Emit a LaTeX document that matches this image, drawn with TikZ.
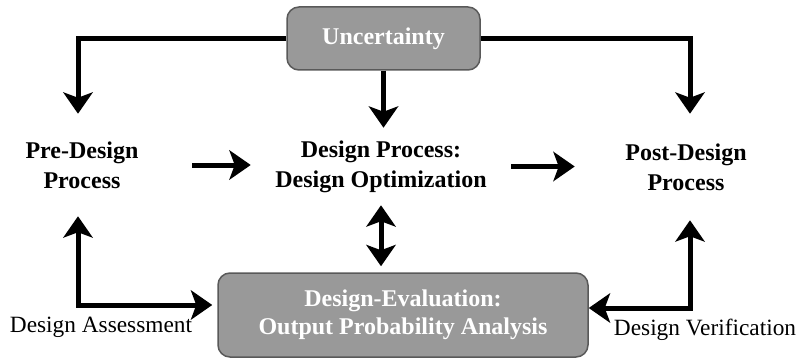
\documentclass[tikz,border=0pt]{standalone}
\usepackage{fontspec}
\setmainfont{Liberation Serif}
\usetikzlibrary{arrows.meta}
\newlength{\du}
\setlength{\du}{0.75\unitlength}
\definecolor{dialinecolor}{rgb}{0.000000, 0.000000, 0.000000}
\definecolor{diafillcolor}{rgb}{0.600000, 0.600000, 0.600000}
\definecolor{diaedgecolor}{rgb}{0.350000, 0.350000, 0.350000}

\begin{document}
\begin{tikzpicture}[
  shadedbox/.style={draw=diaedgecolor, line width=1.5\du, fill=diafillcolor,
    rounded corners=12\du, text=white, align=center, inner sep=0pt,
    font=\fontsize{18}{21}\selectfont\bfseries},
  stagenode/.style={align=center, inner sep=0pt,
    font=\fontsize{18}{22.5}\selectfont\bfseries},
  sidelabel/.style={inner sep=0pt, font=\fontsize{17.5}{21}\selectfont},
  thickarrow/.style={draw=dialinecolor, line width=5\du,
    -{Stealth[length=16pt, width=22pt, inset=4pt]}},
  twoway/.style={thickarrow,
    {Stealth[length=16pt, width=22pt, inset=4pt]}-{Stealth[length=16pt, width=22pt, inset=4pt]}},
]
\pgftransformxscale{1.000000}
\pgftransformyscale{-1.000000}
\useasboundingbox (0\du,0\du) rectangle (800\du,360\du);

% boxes
\node[shadedbox, minimum width=193\du, minimum height=63\du] (unc) at (383.5\du,38.5\du) {Uncertainty};
\node[shadedbox, minimum width=370\du, minimum height=84\du] (eval) at (403\du,315\du) {Design-Evaluation:\\Output Probability Analysis};

% stages
\node[stagenode, minimum width=220\du, minimum height=102\du] (pre) at (82\du,165\du) {Pre-Design\\Process};
\node[stagenode, minimum width=260\du, minimum height=77\du] (dp) at (381\du,166.5\du) {Design Process:\\Design Optimization};
\node[stagenode, minimum width=222\du, minimum height=106\du] (post) at (686\du,167\du) {Post-Design\\Process};

% labels
\node[sidelabel] (assess) at (101\du,327\du) {Design Assessment};
\node[sidelabel] (verif) at (705\du,330\du) {Design Verification};
\coordinate (acorner) at (78\du,305\du);
\coordinate (vcorner) at (690\du,308\du);

% arrows
\draw[thickarrow] (unc.west) -| (acorner |- pre.north);
\draw[thickarrow] (unc.east) -| (vcorner |- post.north);
\draw[thickarrow] (unc.south) -- (unc.south |- dp.north);
\draw[thickarrow] (pre.east) -- (pre.east -| dp.west);
\draw[thickarrow] (dp.east) -- (dp.east -| post.west);
\draw[twoway, shorten >=6\du] (dp.south) -- (dp.south |- eval.north);
\draw[twoway, shorten >=5\du] (acorner |- pre.south) -- (acorner) -- (acorner -| eval.west);
\draw[twoway] (vcorner |- post.south) -- (vcorner) -- (vcorner -| eval.east);
\end{tikzpicture}
\end{document}
